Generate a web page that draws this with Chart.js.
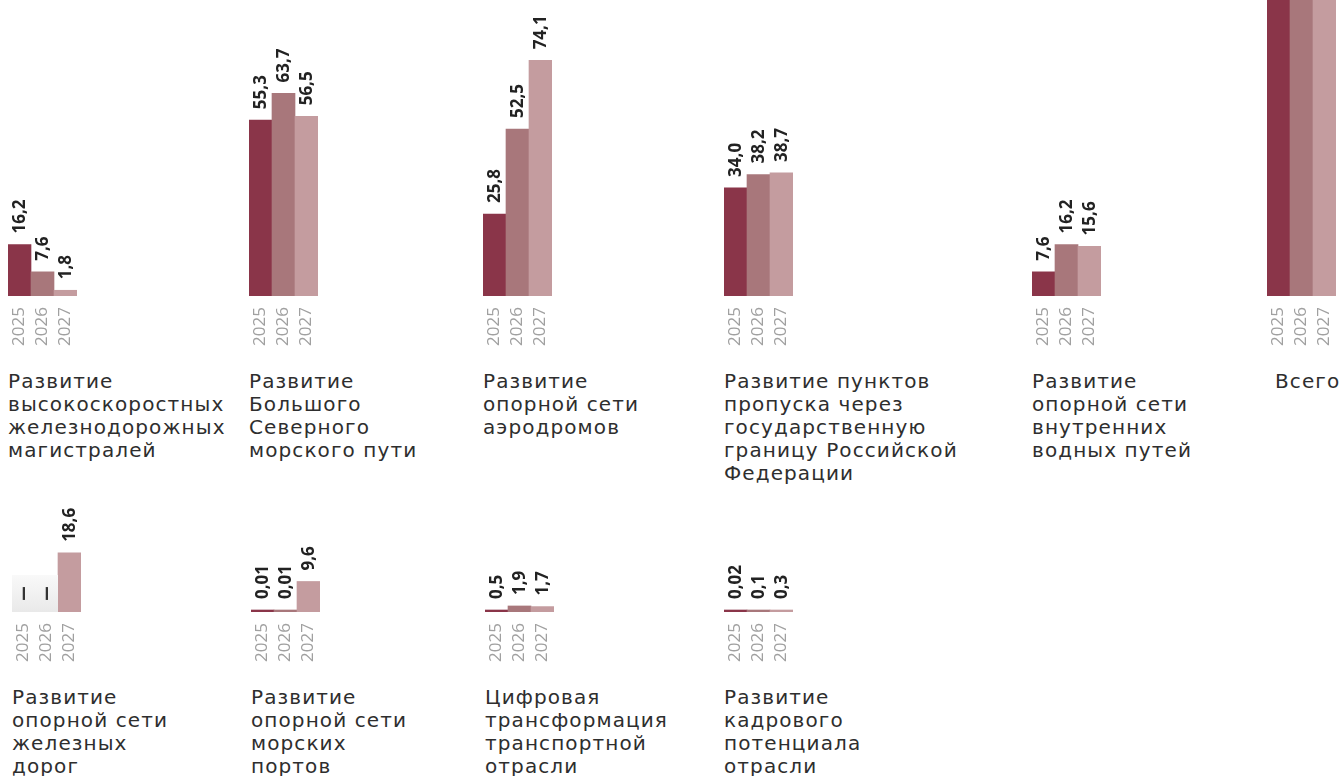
<!DOCTYPE html>
<html>
<head>
<meta charset="utf-8">
<script src="https://cdn.jsdelivr.net/npm/chart.js@4.4.1/dist/chart.umd.min.js"></script>
<style>
  body { margin: 0; width: 1340px; height: 776px; overflow: hidden; background: #fff; position: relative; }
  .panel { position: absolute; }
  .title { position: absolute; font: 20px/23px "DejaVu Sans", sans-serif; letter-spacing: 1.1px; color: #2e2e2e; white-space: pre; }
</style>
</head>
<body>
<script>
// data
const years = ["2025", "2026", "2027"];
const panelTitles = [
    "Развитие\nвысокоскоростных\nжелезнодорожных\nмагистралей",
    "Развитие\nБольшого\nСеверного\nморского пути",
    "Развитие\nопорной сети\nаэродромов",
    "Развитие пунктов\nпропуска через\nгосударственную\nграницу Российской\nФедерации",
    "Развитие\nопорной сети\nвнутренних\nводных путей",
    "Всего",
    "Развитие\nопорной сети\nжелезных\nдорог",
    "Развитие\nопорной сети\nморских\nпортов",
    "Цифровая\nтрансформация\nтранспортной\nотрасли",
    "Развитие\nкадрового\nпотенциала\nотрасли"
];
const values2025 = [16.2, 55.3, 25.8, 34.0, 7.6, 139.4, null, 0.01, 0.5, 0.02];
const values2026 = [7.6, 63.7, 52.5, 38.2, 16.2, 180.2, null, 0.01, 1.9, 0.1];
const values2027 = [1.8, 56.5, 74.1, 38.7, 15.6, 216.9, 18.6, 9.6, 1.7, 0.3];

// layout
const barColors = ["#8a3549", "#a8777b", "#c49c9f"];
const pxPerUnit = 3.18;
const rows = [
    { canvasTop: 0, areaH: 296, titleTop: 370 },
    { canvasTop: 482, areaH: 130, titleTop: 686 }
];
const panelPos = [
    { row: 0, x: 8, tx: 8 }, { row: 0, x: 249, tx: 249 }, { row: 0, x: 483, tx: 483 },
    { row: 0, x: 724, tx: 724 }, { row: 0, x: 1032, tx: 1032 }, { row: 0, x: 1267, tx: 1275 },
    { row: 1, x: 12, tx: 12 }, { row: 1, x: 251, tx: 251 }, { row: 1, x: 485, tx: 485 },
    { row: 1, x: 724, tx: 724 }
];
const barW = 23, padL = 16, padR = 28, axisH = 60;

function fmt(v) {
    let s = String(v);
    if (!s.includes(".")) s += ".0";
    return s.replace(".", ",");
}

const barLabels = {
    id: "barLabels",
    afterDatasetsDraw(chart) {
        const ctx = chart.ctx;
        const data = chart.data.datasets[0].data;
        const meta = chart.getDatasetMeta(0);
        const area = chart.chartArea;
        const xs = chart.scales.x;
        const w = (area.right - area.left) / data.length;
        data.forEach((v, i) => {
            const cx = xs.getPixelForValue(i);
            ctx.save();
            if (v === null) {
                // no data placeholder
                const h = 37;
                const g = ctx.createLinearGradient(0, area.bottom - h, 0, area.bottom);
                g.addColorStop(0, "#f9f9f9");
                g.addColorStop(1, "#e9e9e9");
                ctx.fillStyle = g;
                ctx.fillRect(cx - w / 2, area.bottom - h, w, h);
                ctx.translate(cx, area.bottom - h / 2);
                ctx.rotate(-Math.PI / 2);
                ctx.fillStyle = "#333";
                ctx.font = '32px "DejaVu Sans"';
                ctx.textAlign = "center";
                ctx.textBaseline = "middle";
                ctx.fillText("–", 0, 1);
            } else {
                const bar = meta.data[i];
                if (bar.y > 40) {
                    ctx.translate(cx, bar.y - 11);
                    ctx.rotate(-Math.PI / 2);
                    ctx.fillStyle = "#222";
                    ctx.font = 'bold 17px "Open Sans"';
                    ctx.textAlign = "left";
                    ctx.textBaseline = "middle";
                    ctx.fillText(fmt(v), 0, 1);
                }
            }
            ctx.restore();
        });
    }
};

panelTitles.forEach((t, i) => {
    const p = panelPos[i];
    const r = rows[p.row];
    const box = document.createElement("div");
    box.className = "panel";
    box.style.left = (p.x - padL) + "px";
    box.style.top = r.canvasTop + "px";
    const canvas = document.createElement("canvas");
    canvas.width = barW * 3 + padL + padR;
    canvas.height = r.areaH + axisH;
    box.appendChild(canvas);
    document.body.appendChild(box);

    const title = document.createElement("div");
    title.className = "title";
    title.style.left = p.tx + "px";
    title.style.top = r.titleTop + "px";
    title.textContent = t;
    document.body.appendChild(title);

    new Chart(canvas.getContext("2d"), {
        type: "bar",
        data: {
            labels: years,
            datasets: [{
                data: [values2025[i], values2026[i], values2027[i]],
                backgroundColor: barColors,
                barPercentage: 1,
                categoryPercentage: 1,
                minBarLength: 2
            }]
        },
        options: {
            responsive: false,
            animation: false,
            layout: { padding: { left: padL, right: padR, top: 0, bottom: 0 } },
            plugins: { legend: { display: false }, tooltip: { enabled: false } },
            scales: {
                y: { display: false, min: 0, max: r.areaH / pxPerUnit },
                x: {
                    grid: { display: false, drawTicks: false },
                    border: { display: false },
                    ticks: {
                        color: "#a0a0a0",
                        font: { family: "Open Sans", size: 17 },
                        autoSkip: false,
                        minRotation: 90, maxRotation: 90, padding: 11
                    },
                    afterFit(s) { s.height = axisH; }
                }
            }
        },
        plugins: [barLabels]
    });
});
</script>
</body>
</html>
